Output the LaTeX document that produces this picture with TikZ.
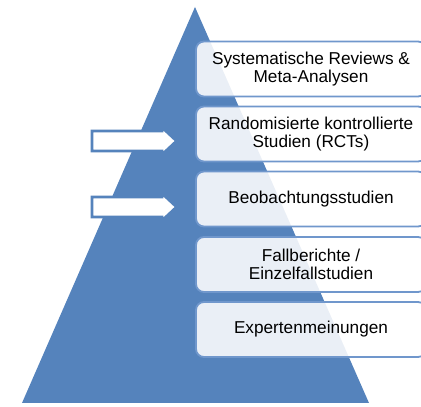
\documentclass[tikz,border=0pt]{standalone}
\usepackage{fontspec}
\setmainfont{Liberation Sans}
\usepackage{tikz}

\definecolor{pyrblue}{RGB}{85,131,188}
\definecolor{boxline}{RGB}{112,151,204}

\begin{document}
\begin{tikzpicture}[x=1pt, y=1pt,
    lnode/.style={draw=boxline, line width=1.8pt, fill=white, fill opacity=0.88, text opacity=1, rounded corners=8pt, minimum width=230pt, minimum height=55pt, align=center, font=\fontsize{17.2}{18}\selectfont},
    arr/.style={draw=pyrblue, line width=2.6pt, fill=white, line join=miter}]
    \useasboundingbox (0,0) rectangle (421,407);
    \clip (0,0) rectangle (421,407);

    % pyramid
    \fill[pyrblue] (22,4) -- (195,400) -- (369,4) -- cycle;

    % levels
    \node[lnode] (0) at (311,338) {Systematische Reviews \&\\Meta-Analysen};
    \node[lnode] (1) at (311,273) {Randomisierte kontrollierte\\Studien (RCTs)};
    \node[lnode] (2) at (311,208) {Beobachtungsstudien};
    \node[lnode] (3) at (311,142.5) {Fallberichte /\\Einzelfallstudien};
    \node[lnode] (4) at (311,77.5) {Expertenmeinungen};

    % block arrows
    \foreach \y in {266,200} {
        \draw[arr] (92,\y-10) -- (162,\y-10) -- (162,\y-13.5) -- (176.5,\y)
            -- (162,\y+13.5) -- (162,\y+10) -- (92,\y+10) -- cycle;
    }
\end{tikzpicture}
\end{document}
